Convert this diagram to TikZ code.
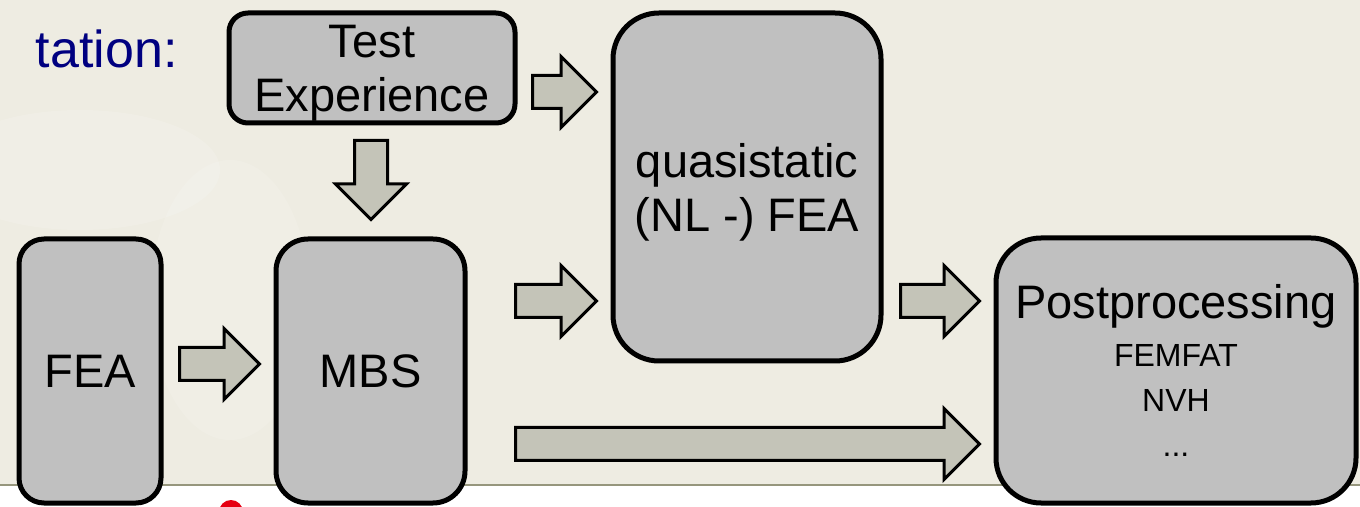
\documentclass[tikz,border=0pt]{standalone}
\usepackage{fontspec}
\setmainfont{Liberation Sans}
\usetikzlibrary{calc,shapes.arrows}

\definecolor{slidebg}{RGB}{238,236,226}
\definecolor{boxgray}{RGB}{192,192,192}
\definecolor{arrowgray}{RGB}{196,196,184}
\definecolor{titleblue}{RGB}{0,0,128}
\definecolor{stripline}{RGB}{150,150,125}
\definecolor{logored}{RGB}{230,0,18}

\newcommand\bigtext{\fontsize{23.5}{27}\selectfont}
\newcommand\smalltext{\fontsize{16}{22.5}\selectfont}

\tikzset{
    stage/.style={draw, line width=2.5pt, fill=boxgray, rectangle,
                  inner sep=0pt, align=center, font=\bigtext},
    % hollow block arrow laid between two points
    bigflow/.style={to path={
        let \p1=($(\tikztotarget)-(\tikztostart)$),
            \n1={veclen(\x1,\y1)}, \n2={atan2(\y1,\x1)} in
        node[single arrow, draw, line width=1.5pt, fill=arrowgray,
             inner xsep=0pt, inner ysep=7.5pt,
             single arrow head extend=9.5pt,
             minimum height=\n1, rotate=\n2, anchor=tail]
            at (\tikztostart) {}}},
}

\begin{document}
\begin{tikzpicture}[x=0.5pt, y=-0.5pt]

    \useasboundingbox (0,0) rectangle (1360,507);
    \clip (0,0) rectangle (1360,507);

    % slide background and footer strip
    \fill[slidebg] (0,0) rectangle (1360,485);
    \fill[white, opacity=0.15] (80,170) ellipse (70pt and 30pt);
    \fill[white, opacity=0.12] (230,300) ellipse (40pt and 70pt);
    \fill[white] (0,485) rectangle (1360,507);
    \draw[stripline, line width=1pt] (0,485) -- (1360,485);
    \fill[logored] (231,512) circle (6pt);

    \node[anchor=base east, text=titleblue, inner sep=0pt,
          font=\fontsize{26}{30}\selectfont] (title) at (178,68) {tation:};

    \node[stage, minimum width=143pt, minimum height=55pt, text depth=0pt,
          rounded corners=9.5pt] (test) at (372,68) {Test\\Experience};
    \node[stage, minimum width=134pt, minimum height=174pt, text depth=0pt,
          rounded corners=23pt] (quasi) at (747,187) {quasistatic\\(NL -) FEA};
    \node[stage, minimum width=71pt, minimum height=132pt,
          rounded corners=12.5pt] (fea) at (90,371) {FEA};
    \node[stage, minimum width=94.5pt, minimum height=132pt,
          rounded corners=16pt] (mbs) at (370.5,371) {MBS};
    \node[stage, minimum width=180pt, minimum height=132.5pt, font=\smalltext,
          rounded corners=22.5pt] (post) at (1176,370.5)
          {{\bigtext Postprocessing}\\[1.5pt]FEMFAT\\NVH\\...};

    % arrow ends
    \coordinate (test-right) at (531,92);
    \coordinate (quasi-top) at (595,92);
    \coordinate (test-down) at (371,139);
    \coordinate (mbs-top) at (371,218);
    \coordinate (mbs-right) at (514,301);
    \coordinate (quasi-left) at (595,301);
    \coordinate (quasi-right) at (899,301);
    \coordinate (post-left) at (978,301);
    \coordinate (fea-right) at (178,364);
    \coordinate (mbs-left) at (258,364);
    \coordinate (mbs-low) at (514,444);
    \coordinate (post-low) at (978,444);

    \path[bigflow] (test-right) to (quasi-top);
    \path[bigflow] (test-down) to (mbs-top);
    \path[bigflow] (mbs-right) to (quasi-left);
    \path[bigflow] (quasi-right) to (post-left);
    \path[bigflow] (fea-right) to (mbs-left);
    \path[bigflow] (mbs-low) to (post-low);

\end{tikzpicture}
\end{document}
